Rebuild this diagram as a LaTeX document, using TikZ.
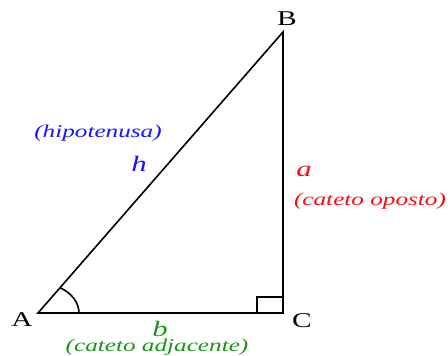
\documentclass[tikz,border=0pt]{standalone}
\usepackage{fontspec}
\usepackage{graphicx}
\setmainfont{Liberation Serif}
\definecolor{hblue}{RGB}{20,20,255}
\definecolor{ared}{RGB}{255,10,10}
\definecolor{bgreen}{RGB}{25,150,25}
\tikzset{
  edge/.style={line width=1.6pt, black},
  vlabel/.style={inner sep=0pt, anchor=base, font=\fontsize{21}{21}\selectfont},
  sym/.style={inner sep=0pt, anchor=base, font=\fontsize{22}{22}\selectfont\itshape},
  note/.style={inner sep=0pt, anchor=base, font=\fontsize{18}{18}\selectfont\itshape}
}
\newcommand{\wide}[1]{\scalebox{1.4}[1]{#1}}
\begin{document}
\begin{tikzpicture}[x=1pt,y=1pt]
\useasboundingbox (0,0) rectangle (448,356);
\coordinate (A) at (38,43);
\coordinate (C) at (283,43);
\coordinate (B) at (283,324);
\draw[edge, line join=miter] (A) -- (C) -- (B) -- cycle;
\coordinate (sq1) at (257,43);
\coordinate (sq2) at (257,59);
\coordinate (sq3) at (283,59);
\draw[edge] (sq1) -- (sq2) -- (sq3);
\coordinate (arcstart) at (79,43);
\draw[edge] (arcstart) arc[start angle=0, end angle=57.5, x radius=41, y radius=30];
\node[vlabel] (lA) at (22,29) {\wide{A}};
\node[vlabel] (lB) at (287,330) {\wide{B}};
\node[vlabel] (lC) at (302,28) {\wide{C}};
\node[note, hblue] (hip) at (98,218) {\wide{(hipotenusa)}};
\node[sym, hblue] (h) at (139,184) {\wide{h}};
\node[sym, ared] (a) at (304,179) {\wide{a}};
\node[note, ared] (op) at (370,150) {\wide{(cateto oposto)}};
\node[sym, bgreen] (b) at (160,19) {\wide{b}};
\node[note, bgreen] (adj) at (157,4) {\wide{(cateto adjacente)}};
\end{tikzpicture}
\end{document}
